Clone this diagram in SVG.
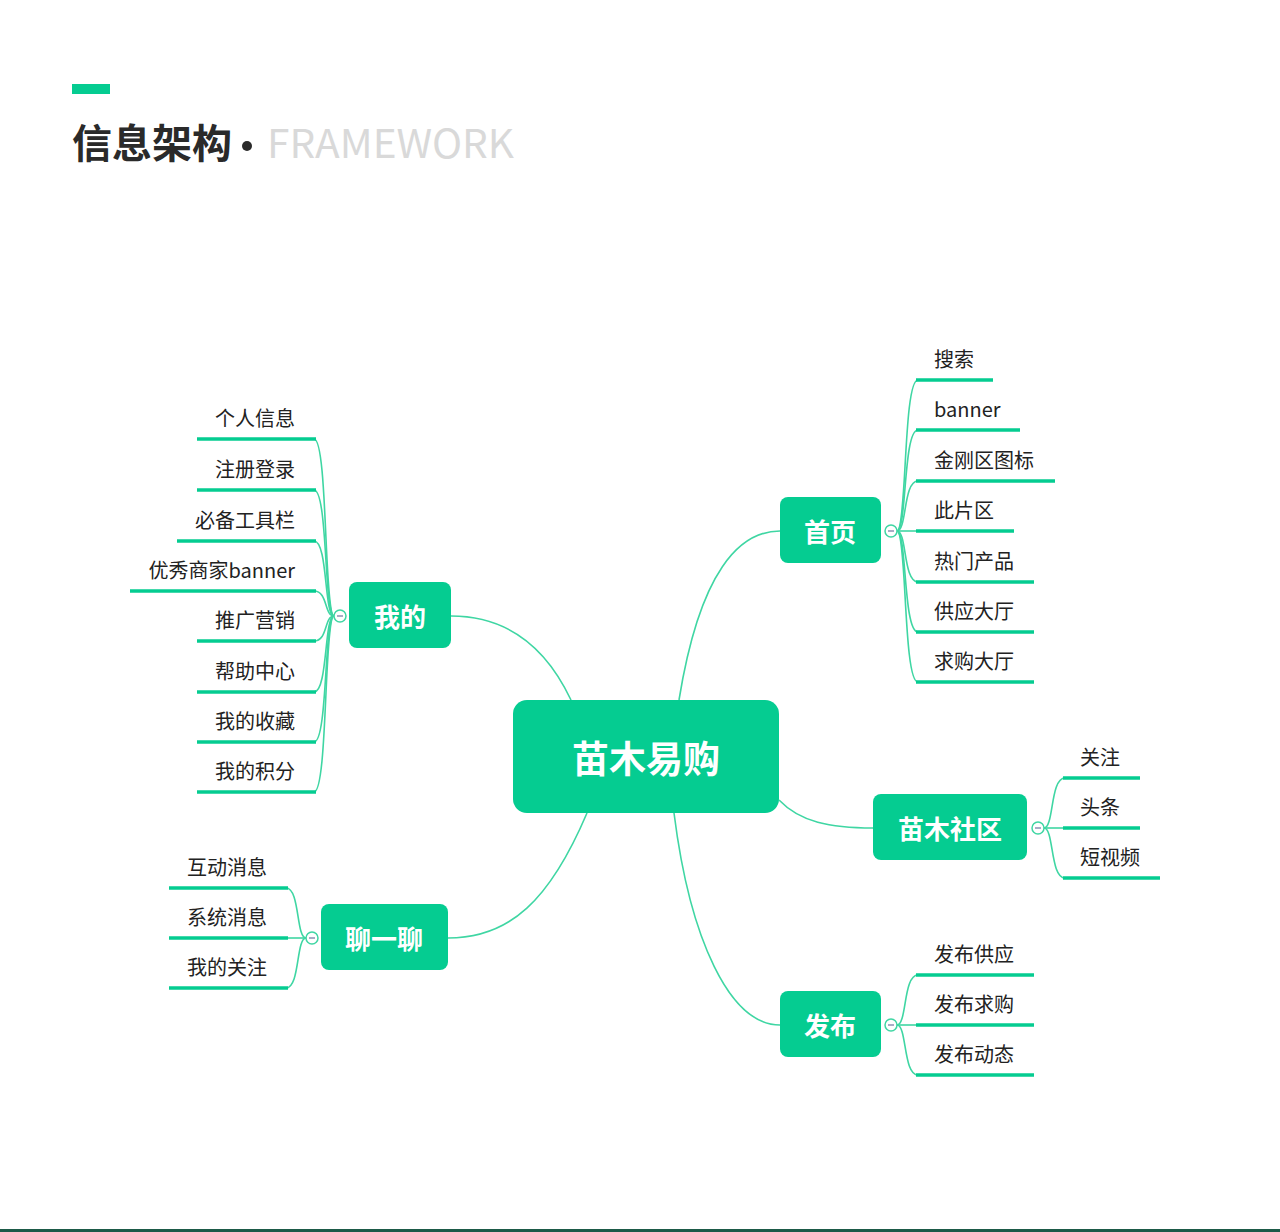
<svg xmlns="http://www.w3.org/2000/svg" width="1280" height="1232" viewBox="0 0 1280 1232">
<style>
.node{fill:#05cc91}
.nt{font-family:"Noto Sans CJK SC","Noto Sans",sans-serif;font-weight:bold;fill:#fff;text-anchor:middle;dominant-baseline:central}
.lt{font-family:"Noto Sans CJK SC","Noto Sans",sans-serif;font-size:20px;fill:#222}
.ul{stroke:#05cc91;stroke-width:3.5;fill:none}
.br{stroke:#3fd6a3;stroke-width:1.6;fill:none}
.tg{fill:#fff;stroke:#3fd6a3;stroke-width:1.5}
.tm{stroke:#7a7fa8;stroke-width:1.3}
</style>
<rect width="1280" height="1232" fill="#fff"/>
<g id="title">
<rect x="72" y="84" width="38" height="10" fill="#05cc91"/>
<text x="72" y="158" font-family="Noto Sans CJK SC,sans-serif" font-size="40" font-weight="bold" fill="#2a2a2a">信息架构</text>
<circle cx="247" cy="146" r="5" fill="#2a2a2a"/>
<text x="267" y="158" font-family="Noto Sans CJK SC,Noto Sans,sans-serif" font-size="40" fill="#d9d9d9" textLength="247" lengthAdjust="spacingAndGlyphs">FRAMEWORK</text>
</g>
<g id="connectors">
<path class="br" d="M679,700 C700,570 740,531 780,531"/>
<path class="br" d="M571,700 C545,645 505,616 451,616"/>
<path class="br" d="M779,800 C800,822 830,828 873,828"/>
<path class="br" d="M587,813 C550,900 510,938 448,938"/>
<path class="br" d="M674,813 C690,940 730,1025 780,1025"/>
<!-- 首页 branches -->
<g>
<path class="br" d="M897,531 C907,531 903,380 918,380"/>
<path class="br" d="M897,531 C907,531 903,430 918,430"/>
<path class="br" d="M897,531 C907,531 903,481 918,481"/>
<path class="br" d="M897,531 L918,531"/>
<path class="br" d="M897,531 C907,531 903,582 918,582"/>
<path class="br" d="M897,531 C907,531 903,632 918,632"/>
<path class="br" d="M897,531 C907,531 903,682 918,682"/>
</g>
<!-- 我的 branches -->
<g>
<path class="br" d="M334,616 C324,616 328,439 314,439"/>
<path class="br" d="M334,616 C324,616 328,490 314,490"/>
<path class="br" d="M334,616 C324,616 328,541 314,541"/>
<path class="br" d="M334,616 C324,616 328,591 314,591"/>
<path class="br" d="M334,616 C324,616 328,641 314,641"/>
<path class="br" d="M334,616 C324,616 328,692 314,692"/>
<path class="br" d="M334,616 C324,616 328,742 314,742"/>
<path class="br" d="M334,616 C324,616 328,792 314,792"/>
</g>
<!-- 苗木社区 branches -->
<g>
<path class="br" d="M1044,828 C1054,828 1050,778 1065,778"/>
<path class="br" d="M1044,828 L1065,828"/>
<path class="br" d="M1044,828 C1054,828 1050,878 1065,878"/>
</g>
<!-- 聊一聊 branches -->
<g>
<path class="br" d="M306,938 C296,938 300,888 286,888"/>
<path class="br" d="M306,938 L286,938"/>
<path class="br" d="M306,938 C296,938 300,988 286,988"/>
</g>
<!-- 发布 branches -->
<g>
<path class="br" d="M897,1025 C907,1025 903,975 918,975"/>
<path class="br" d="M897,1025 L918,1025"/>
<path class="br" d="M897,1025 C907,1025 903,1075 918,1075"/>
</g>
</g>
<g id="node-center">
<rect class="node" x="513" y="700" width="266" height="113" rx="14"/>
<text class="nt" x="646" y="757" font-size="37">苗木易购</text>
</g>
<g id="node-home">
<rect class="node" x="780" y="497" width="101" height="66" rx="8"/>
<text class="nt" x="830" y="530" font-size="26">首页</text>
<circle class="tg" cx="891" cy="531" r="6"/><line class="tm" x1="888" y1="531" x2="894" y2="531"/>
</g>
<g id="node-mine">
<rect class="node" x="349" y="582" width="102" height="66" rx="8"/>
<text class="nt" x="400" y="615" font-size="26">我的</text>
<circle class="tg" cx="340" cy="616" r="6"/><line class="tm" x1="337" y1="616" x2="343" y2="616"/>
</g>
<g id="node-community">
<rect class="node" x="873" y="794" width="154" height="66" rx="8"/>
<text class="nt" x="950" y="827" font-size="26">苗木社区</text>
<circle class="tg" cx="1038" cy="828" r="6"/><line class="tm" x1="1035" y1="828" x2="1041" y2="828"/>
</g>
<g id="node-chat">
<rect class="node" x="321" y="904" width="127" height="66" rx="8"/>
<text class="nt" x="384" y="937" font-size="26">聊一聊</text>
<circle class="tg" cx="312" cy="938" r="6"/><line class="tm" x1="309" y1="938" x2="315" y2="938"/>
</g>
<g id="node-publish">
<rect class="node" x="780" y="991" width="101" height="66" rx="8"/>
<text class="nt" x="830" y="1024" font-size="26">发布</text>
<circle class="tg" cx="891" cy="1025" r="6"/><line class="tm" x1="888" y1="1025" x2="894" y2="1025"/>
</g>
<g id="home-children">
<g id="c-search"><line class="ul" x1="916" y1="380" x2="993" y2="380"/><text class="lt" x="934" y="367">搜索</text></g>
<g id="c-banner"><line class="ul" x1="916" y1="430" x2="1020" y2="430"/><text class="lt" x="934" y="417">banner</text></g>
<g id="c-jingang"><line class="ul" x1="916" y1="481" x2="1055" y2="481"/><text class="lt" x="934" y="468">金刚区图标</text></g>
<g id="c-cipian"><line class="ul" x1="916" y1="531" x2="1014" y2="531"/><text class="lt" x="934" y="518">此片区</text></g>
<g id="c-hot"><line class="ul" x1="916" y1="582" x2="1034" y2="582"/><text class="lt" x="934" y="569">热门产品</text></g>
<g id="c-supply"><line class="ul" x1="916" y1="632" x2="1034" y2="632"/><text class="lt" x="934" y="619">供应大厅</text></g>
<g id="c-demand"><line class="ul" x1="916" y1="682" x2="1034" y2="682"/><text class="lt" x="934" y="669">求购大厅</text></g>
</g>
<g id="mine-children" text-anchor="end">
<g id="c-info"><line class="ul" x1="197" y1="439" x2="316" y2="439"/><text class="lt" x="295" y="426" text-anchor="end">个人信息</text></g>
<g id="c-reg"><line class="ul" x1="197" y1="490" x2="316" y2="490"/><text class="lt" x="295" y="477" text-anchor="end">注册登录</text></g>
<g id="c-tools"><line class="ul" x1="177" y1="541" x2="316" y2="541"/><text class="lt" x="295" y="528" text-anchor="end">必备工具栏</text></g>
<g id="c-merchant"><line class="ul" x1="130" y1="591" x2="316" y2="591"/><text class="lt" x="295" y="578" text-anchor="end">优秀商家banner</text></g>
<g id="c-promo"><line class="ul" x1="197" y1="641" x2="316" y2="641"/><text class="lt" x="295" y="628" text-anchor="end">推广营销</text></g>
<g id="c-help"><line class="ul" x1="197" y1="692" x2="316" y2="692"/><text class="lt" x="295" y="679" text-anchor="end">帮助中心</text></g>
<g id="c-fav"><line class="ul" x1="197" y1="742" x2="316" y2="742"/><text class="lt" x="295" y="729" text-anchor="end">我的收藏</text></g>
<g id="c-points"><line class="ul" x1="197" y1="792" x2="316" y2="792"/><text class="lt" x="295" y="779" text-anchor="end">我的积分</text></g>
</g>
<g id="community-children">
<g id="c-follow"><line class="ul" x1="1063" y1="778" x2="1140" y2="778"/><text class="lt" x="1080" y="765">关注</text></g>
<g id="c-headline"><line class="ul" x1="1063" y1="828" x2="1140" y2="828"/><text class="lt" x="1080" y="815">头条</text></g>
<g id="c-video"><line class="ul" x1="1063" y1="878" x2="1160" y2="878"/><text class="lt" x="1080" y="865">短视频</text></g>
</g>
<g id="chat-children">
<g id="c-interact"><line class="ul" x1="169" y1="888" x2="288" y2="888"/><text class="lt" x="267" y="875" text-anchor="end">互动消息</text></g>
<g id="c-system"><line class="ul" x1="169" y1="938" x2="288" y2="938"/><text class="lt" x="267" y="925" text-anchor="end">系统消息</text></g>
<g id="c-myfollow"><line class="ul" x1="169" y1="988" x2="288" y2="988"/><text class="lt" x="267" y="975" text-anchor="end">我的关注</text></g>
</g>
<g id="publish-children">
<g id="c-pubsupply"><line class="ul" x1="916" y1="975" x2="1034" y2="975"/><text class="lt" x="934" y="962">发布供应</text></g>
<g id="c-pubdemand"><line class="ul" x1="916" y1="1025" x2="1034" y2="1025"/><text class="lt" x="934" y="1012">发布求购</text></g>
<g id="c-pubdyn"><line class="ul" x1="916" y1="1075" x2="1034" y2="1075"/><text class="lt" x="934" y="1062">发布动态</text></g>
</g>
<rect x="0" y="1229" width="1280" height="3" fill="#1d5a48"/>
</svg>
